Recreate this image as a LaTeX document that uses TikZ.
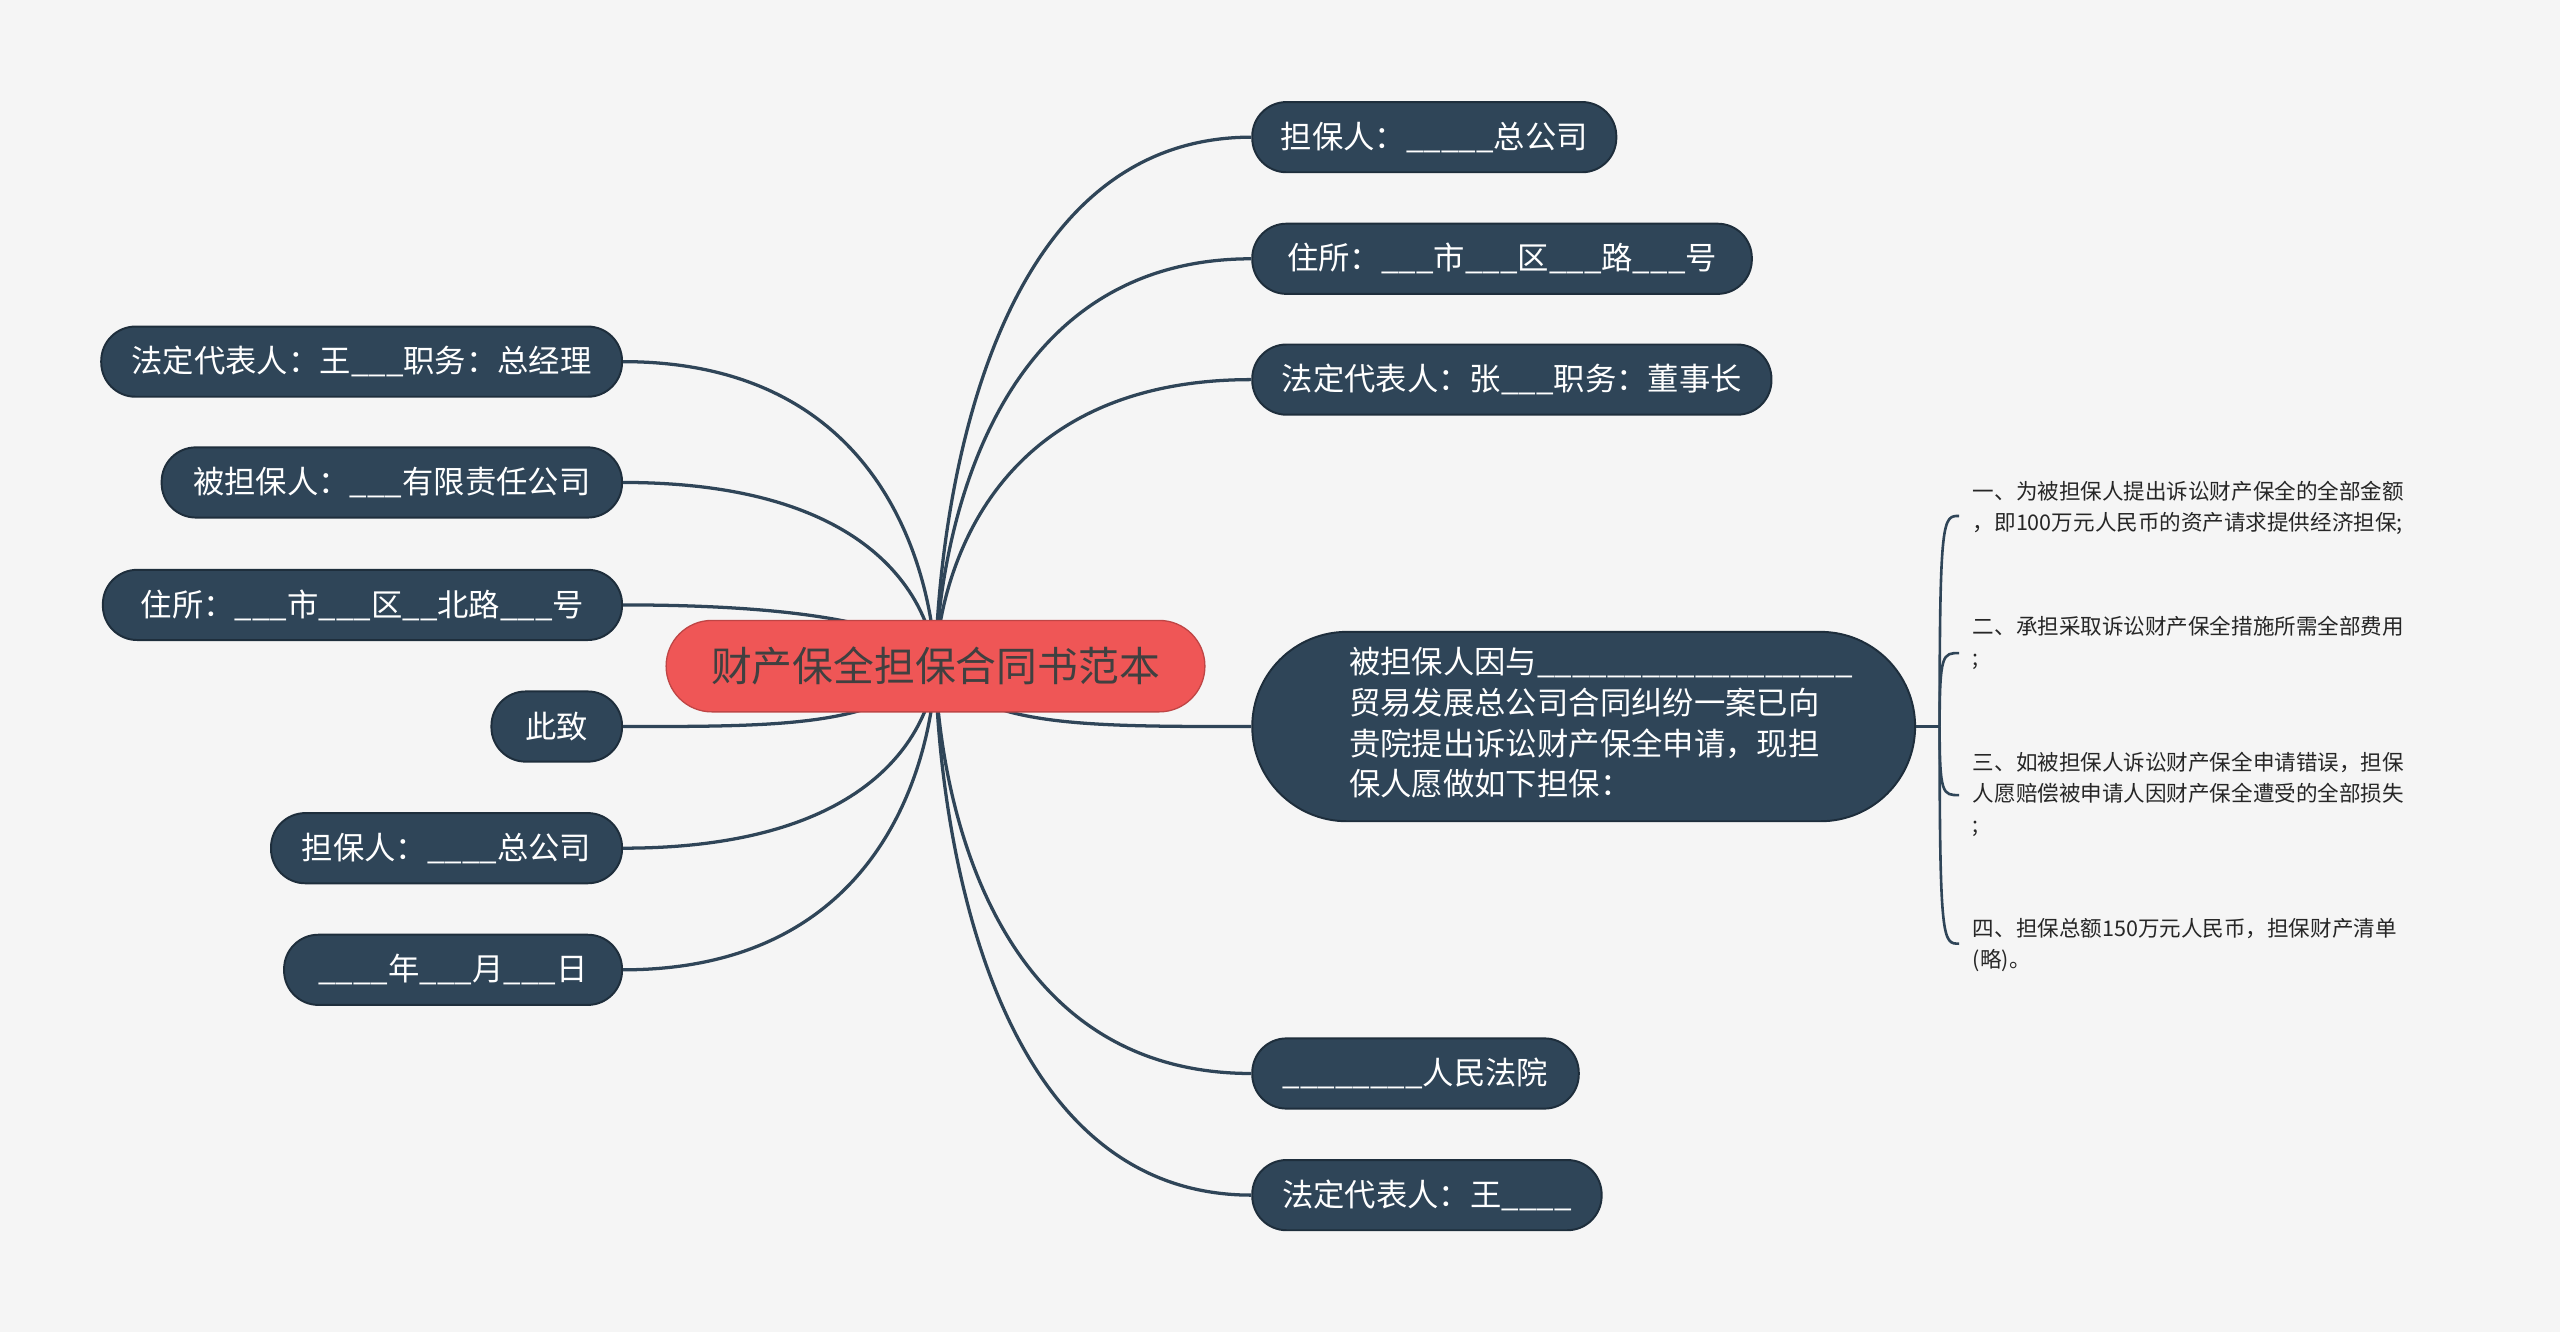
\documentclass[tikz,border=0pt]{standalone}
\usepackage{fontspec}
\setmainfont{Noto Sans CJK SC}
\begin{document}
\begin{tikzpicture}[x=0.5pt,y=-0.5pt,
  box/.style={fill=boxc,draw=boxe,line width=0.6pt,text=white,rounded corners=10.5pt,minimum height=21.5pt,inner sep=0pt,font=\fontsize{9.6}{12}\selectfont},
  conn/.style={draw=boxc,line width=1pt},
  leaf/.style={anchor=north west,inner sep=0pt,align=left,text=black!85,font=\fontsize{6.6}{9.5}\selectfont}]
\definecolor{boxc}{HTML}{2F4558}
\definecolor{boxe}{HTML}{1E2E3C}
\definecolor{rootc}{HTML}{EF5656}
\fill[white!96!black] (0,0) rectangle (1568,816);
\useasboundingbox (0,0) rectangle (1568,816);
\coordinate (c) at (573,408);
% right nodes
\node[box,minimum width=111.5pt] (r1) at (878.5,84) {担保人：\_\_\_\_\_总公司};
\node[box,minimum width=153pt] (r2) at (920,158.5) {住所：\_\_\_市\_\_\_区\_\_\_路\_\_\_号};
\node[box,minimum width=159pt] (r3) at (926,232.5) {法定代表人：张\_\_\_职务：董事长};
\node[box,minimum width=203pt,minimum height=58pt,rounded corners=29pt] (r4) at (970,445) {};
\node[text=white,inner sep=0pt,align=left,text width=145pt,font=\fontsize{9.6}{12.5}\selectfont,anchor=north west] (r4t) at (826,396) {被担保人因与\_\_\_\_\_\_\_\_\_\_\_\_\_\_\_\_\_\_\\贸易发展总公司合同纠纷一案已向\\贵院提出诉讼财产保全申请，现担\\保人愿做如下担保：};
\node[box,minimum width=100pt] (r5) at (867,657.5) {\_\_\_\_\_\_\_\_人民法院};
\node[box,minimum width=107pt] (r6) at (874,732) {法定代表人：王\_\_\_\_};
% left nodes
\node[box,minimum width=159.5pt] (l1) at (221.5,221.5) {法定代表人：王\_\_\_职务：总经理};
\node[box,minimum width=141pt] (l2) at (240,295.5) {被担保人：\_\_\_有限责任公司};
\node[box,minimum width=159pt] (l3) at (222,370.5) {住所：\_\_\_市\_\_\_区\_\_北路\_\_\_号};
\node[box,minimum width=40pt] (l4) at (341,445) {此致};
\node[box,minimum width=107.5pt] (l5) at (273.5,519.5) {担保人：\_\_\_\_总公司};
\node[box,minimum width=103.5pt] (l6) at (277.5,594) {\_\_\_\_年\_\_\_月\_\_\_日};
% connectors
\begin{scope}[on background layer/.try]
\end{scope}
\foreach \n in {r1,r2,r3,r5,r6}{
  \path (\n.west) coordinate (t);
  \draw[conn] (c) .. controls (573,408) and (573,0|-t) .. (t);
}
\foreach \n in {l1,l2,l3,l5,l6}{
  \path (\n.east) coordinate (t);
  \draw[conn] (c) .. controls (573,408) and (573,0|-t) .. (t);
}
\draw[conn] (c) .. controls (600,445) and (660,445) .. (r4.west);
\draw[conn] (c) .. controls (540,445) and (480,445) .. (l4.east);
% root
\node[fill=rootc,draw=rootc!80!black,line width=0.4pt,rounded corners=14pt,minimum width=165pt,minimum height=28pt,text=black!75,font=\fontsize{12.5}{15}\selectfont,inner sep=0pt] (root) at (573,408) {财产保全担保合同书范本};
% redraw boxes over connectors
\foreach \n/\w in {r1/111.5,r2/153,r3/159,r5/100,r6/107,l1/159.5,l2/141,l3/159,l4/40,l5/107.5,l6/103.5}{}
% leaves
\coordinate (b) at (1188,445);
\draw[conn] (r4.east) -- (b);
\node[leaf] (f1) at (1208,294) {一、为被担保人提出诉讼财产保全的全部金额\\，即100万元人民币的资产请求提供经济担保;};
\node[leaf] (f2) at (1208,377) {二、承担采取诉讼财产保全措施所需全部费用\\;};
\node[leaf] (f3) at (1208,460) {三、如被担保人诉讼财产保全申请错误，担保\\人愿赔偿被申请人因财产保全遭受的全部损失\\;};
\node[leaf] (f4) at (1208,562) {四、担保总额150万元人民币，担保财产清单\\(略)。};
\foreach \y in {316,400,487,578}{
  \draw[conn,line width=0.8pt] (b) -- (1188,445) .. controls (1188,\y) and (1190,\y) .. (1200,\y);
}
\end{tikzpicture}
\end{document}
